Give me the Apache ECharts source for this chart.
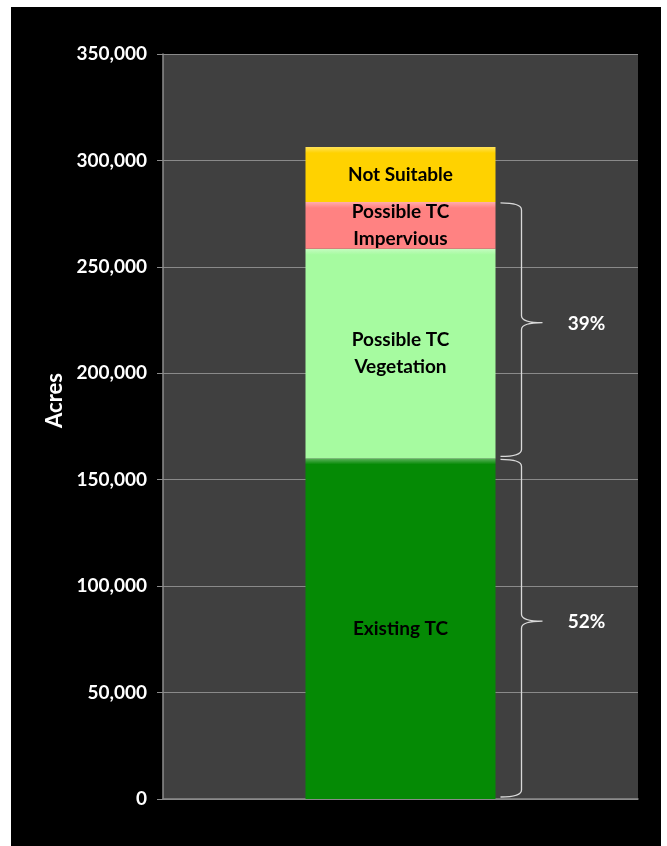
<!DOCTYPE html>
<html><head><meta charset="utf-8">
<script src="https://cdn.jsdelivr.net/npm/echarts@6/dist/echarts.min.js"></script>
<style>
html,body{margin:0;padding:0;background:#fff;width:667px;height:846px;overflow:hidden}
#c{position:absolute;left:11px;top:7px;width:650px;height:839px;background:#000}
</style></head>
<body><div id="c"></div>
<script>
const categories = ['Total'];
const seriesNames = ['Existing TC', 'Possible TC\nVegetation', 'Possible TC\nImpervious', 'Not Suitable'];
const seriesValues = [160000, 98500, 22000, 25800];
const seriesColors = ['#058a05', '#a6fba0', '#ff8282', '#ffd200'];
const yTicks = [0, 50000, 100000, 150000, 200000, 250000, 300000, 350000];
// brace ranges [from, to] and their labels
const braceRanges = [[0, 160000], [160000, 280500]];
const braceLabels = ['52%', '39%'];

const FONT = 'Lato';
const chart = echarts.init(document.getElementById('c'));

function lighten(hex, f) {
  const n = parseInt(hex.slice(1), 16);
  let r = n >> 16, g = (n >> 8) & 255, b = n & 255;
  r = Math.round(r + (255 - r) * f); g = Math.round(g + (255 - g) * f); b = Math.round(b + (255 - b) * f);
  return 'rgb(' + r + ',' + g + ',' + b + ')';
}

const barSeries = seriesNames.map((name, i) => ({
  name: name,
  type: 'bar',
  stack: 'total',
  barWidth: '40%',
  data: [seriesValues[i]],
  itemStyle: {
    color: {
      type: 'linear', x: 0, y: 0, x2: 0, y2: 1,
      colorStops: [
        { offset: 0, color: lighten(seriesColors[i], 0.35) },
        { offset: Math.min(0.3, 6 / (seriesValues[i] * 745 / 350000)), color: seriesColors[i] },
        { offset: 1, color: seriesColors[i] }
      ]
    }
  },
  label: {
    show: true, position: 'inside', formatter: name,
    color: '#000', fontFamily: FONT, fontWeight: 'bold', fontSize: 19, lineHeight: 27
  }
}));

const braceSeries = {
  type: 'custom',
  silent: true,
  data: braceRanges.map((r, i) => [0, r[0], r[1], i]),
  encode: { x: 0, y: [1, 2] },
  z: 5,
  renderItem: function (params, api) {
    const c0 = api.coord([api.value(0), api.value(1)]);
    const c1 = api.coord([api.value(0), api.value(2)]);
    const band = api.size([1, 0])[0];
    const xr = c0[0] + band * 0.2;
    const x0 = xr + 5, x1 = xr + 26, x2 = xr + 47;
    const yb = c0[1] - 2, yt = c1[1] + 1;
    const ym = (yb + yt) / 2 - 7;
    const r = 7;
    const d = 'M' + x0 + ' ' + yt +
      ' Q' + x1 + ' ' + yt + ' ' + x1 + ' ' + (yt + r) +
      ' L' + x1 + ' ' + (ym - r) +
      ' Q' + x1 + ' ' + ym + ' ' + x2 + ' ' + ym +
      ' Q' + x1 + ' ' + ym + ' ' + x1 + ' ' + (ym + r) +
      ' L' + x1 + ' ' + (yb - r) +
      ' Q' + x1 + ' ' + yb + ' ' + x0 + ' ' + yb;
    return {
      type: 'group',
      children: [
        { type: 'path', shape: { pathData: d }, style: { fill: 'none', stroke: '#d9d9d9', lineWidth: 1.3 } },
        { type: 'text', x: x2 + 44, y: ym + 1, style: {
            text: braceLabels[api.value(3)], fill: '#fff', font: 'bold 19px ' + FONT,
            align: 'center', verticalAlign: 'middle' } }
      ]
    };
  }
};

chart.setOption({
  backgroundColor: '#000',
  animation: false,
  grid: { left: 152, right: 23, top: 47, bottom: 47, show: true, backgroundColor: '#404040', borderWidth: 0 },
  xAxis: {
    type: 'category', data: categories,
    axisLine: { show: true, lineStyle: { color: '#8c8c8c', width: 1.5 } },
    axisTick: { show: false }, axisLabel: { show: false }
  },
  yAxis: {
    type: 'value', min: yTicks[0], max: yTicks[yTicks.length - 1], interval: 50000,
    name: 'Acres', nameLocation: 'middle', nameGap: 85, nameRotate: 90,
    nameTextStyle: { color: '#fff', fontFamily: FONT, fontWeight: 'bold', fontSize: 22, padding: [0, 0, 0, 52] },
    axisLine: { show: true, lineStyle: { color: '#8c8c8c', width: 1.5 } },
    axisTick: { show: true, length: 6, lineStyle: { color: '#8c8c8c' } },
    axisLabel: {
      color: '#fff', fontFamily: FONT, fontWeight: 'bold', fontSize: 19, margin: 16,
      formatter: v => v.toLocaleString('en-US')
    },
    splitLine: { show: true, lineStyle: { color: '#8a8a8a', width: 1 } }
  },
  series: barSeries.concat([braceSeries])
});
</script></body></html>
